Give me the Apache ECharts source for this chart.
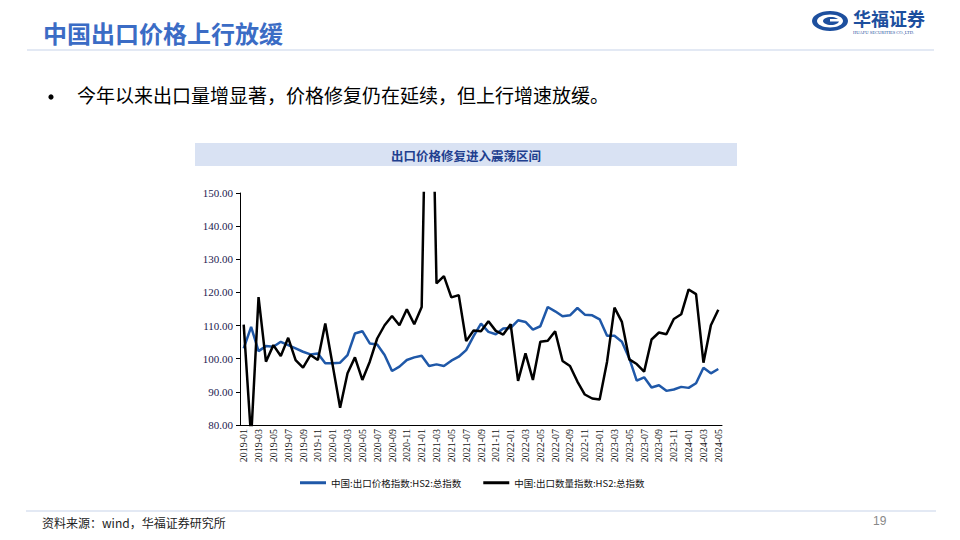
<!DOCTYPE html>
<html>
<head>
<meta charset="utf-8">
<script src="https://cdn.jsdelivr.net/npm/echarts@6/dist/echarts.min.js"></script>
<style>
html,body{margin:0;padding:0;background:#fff;}
#c{width:960px;height:540px;}
</style>
</head>
<body>
<div id="c"></div>
<script>
const months = ['2019-01','2019-02','2019-03','2019-04','2019-05','2019-06','2019-07','2019-08','2019-09','2019-10','2019-11','2019-12',
'2020-01','2020-02','2020-03','2020-04','2020-05','2020-06','2020-07','2020-08','2020-09','2020-10','2020-11','2020-12',
'2021-01','2021-02','2021-03','2021-04','2021-05','2021-06','2021-07','2021-08','2021-09','2021-10','2021-11','2021-12',
'2022-01','2022-02','2022-03','2022-04','2022-05','2022-06','2022-07','2022-08','2022-09','2022-10','2022-11','2022-12',
'2023-01','2023-02','2023-03','2023-04','2023-05','2023-06','2023-07','2023-08','2023-09','2023-10','2023-11','2023-12',
'2024-01','2024-02','2024-03','2024-04','2024-05'];
const priceIndex = [103.1,109.6,102.3,103.8,103.6,105.1,104.1,103.1,102.1,101.3,101.6,98.6,
98.6,98.8,101.1,107.6,108.3,104.6,104.3,101.1,96.3,97.6,99.6,100.4,
100.9,97.8,98.3,97.8,99.4,100.6,102.6,106.8,110.6,108.1,107.4,109.1,
109.3,111.6,111.1,108.8,109.8,115.6,114.3,112.8,113.1,115.3,113.3,113.1,
111.9,106.9,106.9,105.1,100.1,93.4,94.4,91.3,92.0,90.3,90.7,91.5,
91.2,92.6,97.3,95.6,96.9];
const quantityIndex = [110.3,76.0,118.6,99.1,104.1,100.8,106.3,99.6,97.3,101.1,99.6,110.6,
98.0,85.2,95.6,100.4,93.6,99.1,106.1,110.1,112.9,110.1,114.9,110.4,
115.6,235.0,122.7,124.9,118.5,119.2,105.3,108.5,108.3,111.3,108.4,107.3,
110.4,93.3,101.6,93.6,105.1,105.4,108.3,99.3,97.8,93.1,89.2,88.0,
87.7,99.1,115.4,111.1,99.8,98.4,96.1,105.8,107.9,107.4,112.0,113.4,
120.9,119.5,98.8,110.1,114.8];
const seriesNames = ['中国:出口价格指数:HS2:总指数','中国:出口数量指数:HS2:总指数'];
const yTicks = {min:80, max:150, interval:10};

const chart = echarts.init(document.getElementById('c'), null, {renderer:'svg'});
const serif = '"Liberation Serif","Times New Roman",serif';
const cjkSerif = '"Noto Sans CJK SC",sans-serif';
chart.setOption({
  animation:false,
  backgroundColor:'#fff',
  grid:{left:240,right:238,top:193,bottom:115,containLabel:false},
  legend:{
    left:295, top:473,
    itemWidth:26, itemHeight:3, itemGap:22,
    icon:'rect',
    textStyle:{fontFamily:cjkSerif,fontSize:9.5,color:'#111'},
    data:seriesNames
  },
  xAxis:{
    type:'category',
    data:months,
    boundaryGap:true,
    axisLine:{lineStyle:{color:'#000',width:1}},
    axisTick:{interval:1,length:4,lineStyle:{color:'#000'}},
    axisLabel:{interval:1,rotate:90,margin:4,fontFamily:serif,fontSize:10,color:'#111'}
  },
  yAxis:{
    type:'value',
    min:yTicks.min,max:yTicks.max,interval:yTicks.interval,
    axisLine:{show:true,lineStyle:{color:'#000',width:1}},
    axisTick:{show:true,length:4,lineStyle:{color:'#000'}},
    splitLine:{show:false},
    axisLabel:{margin:7,fontFamily:serif,fontSize:11,color:'#1d2150',formatter:v=>v.toFixed(2)}
  },
  series:[
    {name:seriesNames[0],type:'line',data:priceIndex,symbol:'none',clip:true,
     lineStyle:{color:'#1f58a8',width:2.5},itemStyle:{color:'#1f58a8'}},
    {name:seriesNames[1],type:'line',data:quantityIndex,symbol:'none',clip:true,
     lineStyle:{color:'#000',width:2.5},itemStyle:{color:'#000'}}
  ],
  graphic:[
    {type:'text',left:43,top:20,style:{text:'中国出口价格上行放缓',font:'bold 24px "Noto Sans CJK SC",sans-serif',fill:'#3b6cc5'}},
    {type:'rect',shape:{x:27,y:49,width:907,height:2},style:{fill:'#e3e9f4'}},
    {type:'circle',shape:{cx:51,cy:97,r:2.6},style:{fill:'#000'}},
    {type:'text',left:77,top:85,style:{text:'今年以来出口量增显著，价格修复仍在延续，但上行增速放缓。',font:'19px "Noto Sans CJK SC",sans-serif',fill:'#000'}},
    {type:'rect',shape:{x:195,y:143,width:542,height:23},style:{fill:'#d9e2f3'}},
    {type:'text',x:466,y:155,style:{text:'出口价格修复进入震荡区间',font:'bold 12.5px "Noto Sans CJK SC",sans-serif',fill:'#1f3f8f',textAlign:'center',textVerticalAlign:'middle'}},
    // logo
    {type:'ellipse',shape:{cx:830,cy:21,rx:18,ry:10},style:{fill:'#1d4f9e'}},
    {type:'ellipse',shape:{cx:830,cy:21,rx:13,ry:6.5},style:{fill:'#fff'}},
    {type:'ellipse',shape:{cx:831,cy:21,rx:8,ry:4},style:{fill:'#1d4f9e'}},
    {type:'rect',shape:{x:830,y:19,width:12,height:2.5},style:{fill:'#fff'}},
    {type:'text',left:853,top:9,style:{text:'华福证券',font:'bold 18px "Noto Sans CJK SC",sans-serif',fill:'#1d4f9e'}},
    {type:'text',left:853,top:30,style:{text:'HUAFU SECURITIES CO.,LTD.',font:'4.5px "Liberation Serif",serif',fill:'#1d4f9e'}},
    // footer
    {type:'rect',shape:{x:26,y:510,width:910,height:2},style:{fill:'#e3e9f4'}},
    {type:'text',left:42,top:516,style:{text:'资料来源：wind，华福证券研究所',font:'12px "Noto Sans CJK SC",sans-serif',fill:'#222'}},
    {type:'text',left:873,top:515,style:{text:'19',font:'12px "Liberation Sans",sans-serif',fill:'#888'}}
  ]
});
</script>
</body>
</html>
